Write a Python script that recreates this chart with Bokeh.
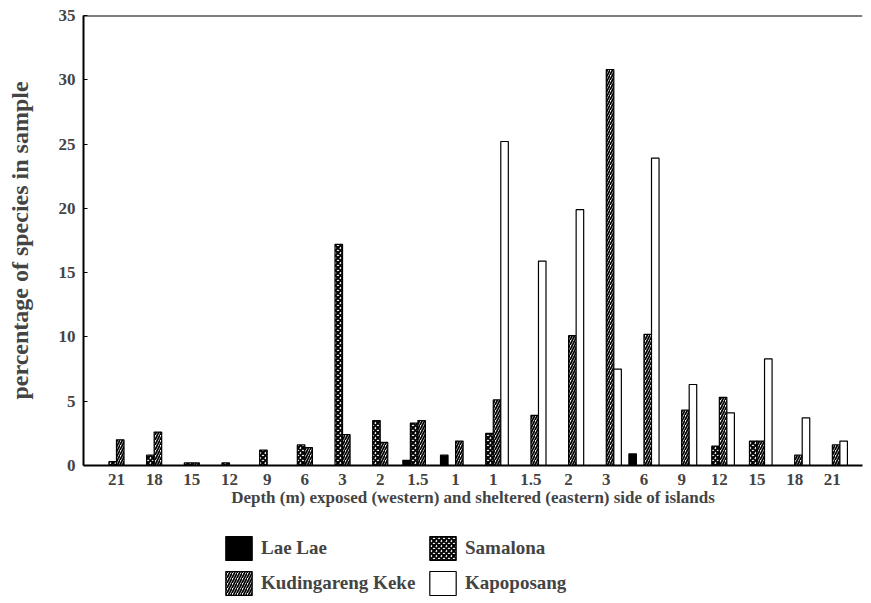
from bokeh.plotting import figure
from bokeh.layouts import column
from bokeh.models import ColumnDataSource, FixedTicker, Span, Legend, LegendItem, Range1d
from bokeh.embed import file_html
from bokeh.resources import INLINE

depth_labels = ["21", "18", "15", "12", "9", "6", "3", "2", "1.5", "1",
                "1", "1.5", "2", "3", "6", "9", "12", "15", "18", "21"]
lae_lae = [0, 0, 0, 0, 0, 0, 0, 0, 0.4, 0.8,
           0, 0, 0, 0, 0.9, 0, 0, 0, 0, 0]
samalona = [0.3, 0.8, 0.2, 0.2, 1.2, 1.6, 17.2, 3.5, 3.3, 0,
            2.5, 0, 0, 0, 0, 0, 1.5, 1.9, 0, 0]
kudingareng_keke = [2.0, 2.6, 0.2, 0, 0, 1.4, 2.4, 1.8, 3.5, 1.9,
                    5.1, 3.9, 10.1, 30.8, 10.2, 4.3, 5.3, 1.9, 0.8, 1.6]
kapoposang = [0, 0, 0, 0, 0, 0, 0, 0, 0, 0,
              25.2, 15.9, 19.9, 7.5, 23.9, 6.3, 4.1, 8.3, 3.7, 1.9]
series_names = ["Lae Lae", "Samalona", "Kudingareng Keke", "Kapoposang"]

idx = list(range(len(depth_labels)))
FONT = "Liberation Serif"

styles = [
    dict(fill_color="black", line_color="black", line_width=1.2),
    dict(fill_color="white", line_color="black", line_width=1.2,
         hatch_pattern="diagonal_cross", hatch_color="black", hatch_scale=5, hatch_weight=2.0),
    dict(fill_color="white", line_color="black", line_width=1.2,
         hatch_pattern="right_diagonal_line", hatch_color="black", hatch_scale=5, hatch_weight=1.7),
    dict(fill_color="white", line_color="black", line_width=1.2),
]
offsets = [-0.3, -0.1, 0.1, 0.3]
values = [lae_lae, samalona, kudingareng_keke, kapoposang]

p = figure(width=863, height=518, x_range=Range1d(-0.875, 19.8), y_range=Range1d(0, 35),
           output_backend="svg", toolbar_location=None,
           min_border_left=83, min_border_right=1, min_border_top=15, min_border_bottom=53)
p.xgrid.visible = False
p.ygrid.visible = False
p.outline_line_color = None

for vals, off, st in zip(values, offsets, styles):
    src = ColumnDataSource(dict(x=[i + off for i in idx], top=vals))
    p.vbar(x="x", top="top", width=0.2, source=src, **st)

p.add_layout(Span(location=35, dimension="width", line_color="black", line_width=2))

p.yaxis.ticker = FixedTicker(ticks=[0, 5, 10, 15, 20, 25, 30, 35])
p.yaxis.major_tick_in = 4
p.yaxis.major_tick_out = 0
p.yaxis.minor_tick_line_color = None
p.yaxis.axis_line_width = 2
p.yaxis.axis_label = "percentage of species in sample"
p.yaxis.axis_label_text_font = FONT
p.yaxis.axis_label_text_font_style = "bold"
p.yaxis.axis_label_text_font_size = "24px"
p.yaxis.axis_label_standoff = 23
p.yaxis.major_label_text_font = FONT
p.yaxis.major_label_text_font_style = "bold"
p.yaxis.major_label_text_font_size = "17px"
p.yaxis.major_label_standoff = 8

p.xaxis.ticker = FixedTicker(ticks=idx)
p.xaxis.major_label_overrides = {i: l for i, l in zip(idx, depth_labels)}
p.xaxis.major_tick_line_color = None
p.xaxis.minor_tick_line_color = None
p.xaxis.axis_line_width = 2
p.xaxis.axis_label = "Depth (m) exposed (western) and sheltered (eastern) side of islands"
p.xaxis.axis_label_text_font = FONT
p.xaxis.axis_label_text_font_style = "bold"
p.xaxis.axis_label_text_font_size = "17px"
p.xaxis.axis_label_standoff = 0
p.xaxis.major_label_text_font = FONT
p.xaxis.major_label_text_font_style = "bold"
p.xaxis.major_label_text_font_size = "17px"
p.xaxis.major_label_standoff = 2

# legend panel (items ordered column-wise so rows read Lae Lae | Samalona, Kudingareng Keke | Kapoposang)
q = figure(width=863, height=82, x_range=Range1d(0, 1), y_range=Range1d(0, 1),
           output_backend="svg", toolbar_location=None,
           min_border_left=0, min_border_right=0, min_border_top=0, min_border_bottom=0)
q.axis.visible = False
q.xgrid.visible = False
q.ygrid.visible = False
q.outline_line_color = None
renderers = {}
for name, st in zip(series_names, styles):
    renderers[name] = q.vbar(x=[-50], top=[-10], bottom=[-20], width=0.2, **st)
order = ["Lae Lae", "Kudingareng Keke", "Samalona", "Kapoposang"]
items = [LegendItem(label=n, renderers=[renderers[n]]) for n in order]
legend = Legend(items=items, ncols=2, location=(139, 2), border_line_color=None,
                background_fill_alpha=0, glyph_width=33, glyph_height=30,
                label_text_font=FONT, label_text_font_style="bold",
                label_text_font_size="19px", label_width=160, spacing=5,
                padding=0, margin=0, label_standoff=6)
q.add_layout(legend, "center")

open("out.html", "w").write(file_html(column(p, q, spacing=0), INLINE))
